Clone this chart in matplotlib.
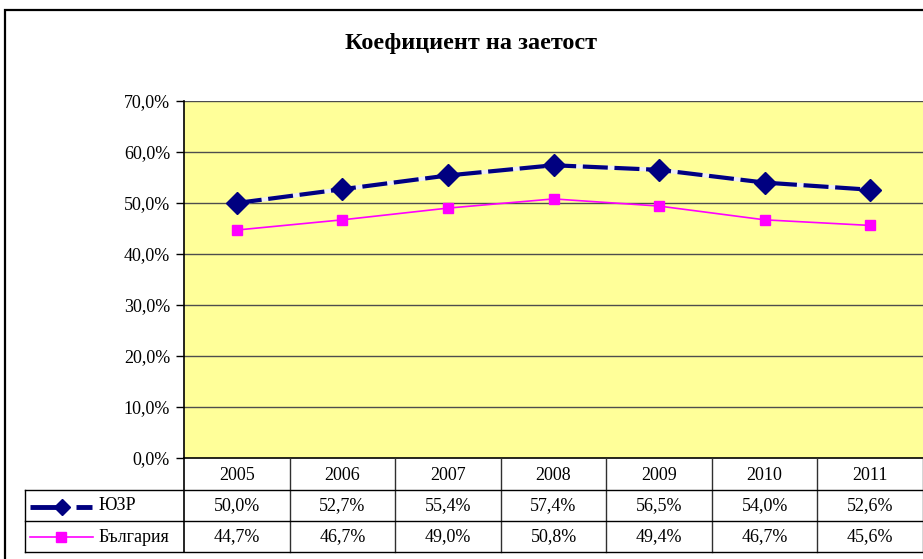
import numpy as np
import matplotlib
matplotlib.use('Agg')
from matplotlib import pyplot as plt
from matplotlib.patches import Rectangle
from matplotlib.lines import Line2D

years = ['2005', '2006', '2007', '2008', '2009', '2010', '2011']
yuzr = [50.0, 52.7, 55.4, 57.4, 56.5, 54.0, 52.6]
bulgaria = [44.7, 46.7, 49.0, 50.8, 49.4, 46.7, 45.6]
series_names = ['ЮЗР', 'България']
title = 'Коефициент на заетост'

plt.rcParams['font.family'] = ['Liberation Serif', 'DejaVu Serif']
FS = 13

W, H = 923, 559
fig = plt.figure(figsize=(W / 100, H / 100), dpi=100)
fig.patch.set_facecolor('white')

def fx(px):
    return px / W

def fy(py):
    return 1 - py / H

# outer chart frame (cut off on right and bottom)
fig.add_artist(Rectangle((fx(5), fy(600)), fx(1000), fy(10) - fy(600),
                         transform=fig.transFigure, fill=False,
                         edgecolor='black', lw=1.6))

left, right, top, bottom = 184, 923, 101, 458
ax = fig.add_axes([fx(left), fy(bottom), fx(right) - fx(left), fy(top) - fy(bottom)])
ax.set_facecolor('#FFFF99')
x = np.arange(len(years))
ax.set_xlim(-0.5, len(years) - 0.5)
ax.set_ylim(0, 70)
yt = np.arange(0, 71, 10)
ax.set_yticks(yt)
ax.set_yticklabels([f'{v:.1f}%'.replace('.', ',') for v in yt], fontsize=FS)
ax.tick_params(axis='y', length=6, width=1, pad=4)
ax.set_xticks([])
for v in yt[1:]:
    ax.axhline(v, color='#4d4d4d', lw=1, zorder=1)
for s in ['top', 'right', 'bottom']:
    ax.spines[s].set_visible(False)
ax.spines['left'].set_linewidth(1.2)

ax.plot(x, yuzr, color='#eeeef6', lw=3, zorder=3)
ax.plot(x, yuzr, color='#000080', lw=3, linestyle=(0, (6, 1.6)),
        marker='D', markersize=11, zorder=4)
ax.plot(x, bulgaria, color='#FF00FF', lw=1.2, marker='s', markersize=7, zorder=3)

fig.text(fx(471), fy(44), title, ha='center', va='center',
         fontsize=17.5, fontweight='bold')

# data table
tb = ax.get_xaxis_transform()
row_y = [458, 490, 521, 552]
ax_h = bottom - top
def ay(py):
    return (bottom - py) / ax_h

lc = '#303030'
ax.plot([-0.5, 6.5], [ay(458)] * 2, transform=tb, color='black', lw=1.2, clip_on=False)
for py in row_y[1:]:
    fig.add_artist(Line2D([fx(25), fx(923)], [fy(py)] * 2, transform=fig.transFigure,
                          color='black', lw=1))
for i in range(len(years)):
    ax.plot([i + 0.5] * 2, [ay(458), ay(552)], transform=tb, color=lc, lw=1, clip_on=False)
ax.plot([-0.5] * 2, [ay(458), ay(552)], transform=tb, color='black', lw=1.2, clip_on=False)
fig.add_artist(Line2D([fx(25)] * 2, [fy(490), fy(552)], transform=fig.transFigure,
                      color='black', lw=1))

for i, yr in enumerate(years):
    ax.text(i, ay(475), yr, transform=tb, ha='center', va='center', fontsize=FS)
    ax.text(i, ay(506), f'{yuzr[i]:.1f}%'.replace('.', ','), transform=tb,
            ha='center', va='center', fontsize=FS)
    ax.text(i, ay(537), f'{bulgaria[i]:.1f}%'.replace('.', ','), transform=tb,
            ha='center', va='center', fontsize=FS)

# legend keys in row headers
for x0, x1 in [(30, 68), (76, 92)]:
    fig.add_artist(Line2D([fx(x0), fx(x1)], [fy(507)] * 2, transform=fig.transFigure,
                          color='#000080', lw=3.5, solid_capstyle='butt'))
fig.add_artist(Line2D([fx(62)], [fy(507)], transform=fig.transFigure,
                      color='#000080', marker='D', markersize=8, lw=0))
fig.add_artist(Line2D([fx(30), fx(93)], [fy(537)] * 2, transform=fig.transFigure,
                      color='#FF00FF', lw=1.2))
fig.add_artist(Line2D([fx(61)], [fy(537)], transform=fig.transFigure,
                      color='#FF00FF', marker='s', markersize=7, lw=0))
fig.text(fx(99), fy(506), series_names[0], ha='left', va='center', fontsize=FS)
fig.text(fx(99), fy(537), series_names[1], ha='left', va='center', fontsize=FS)

fig.savefig('out.png', dpi=100)
